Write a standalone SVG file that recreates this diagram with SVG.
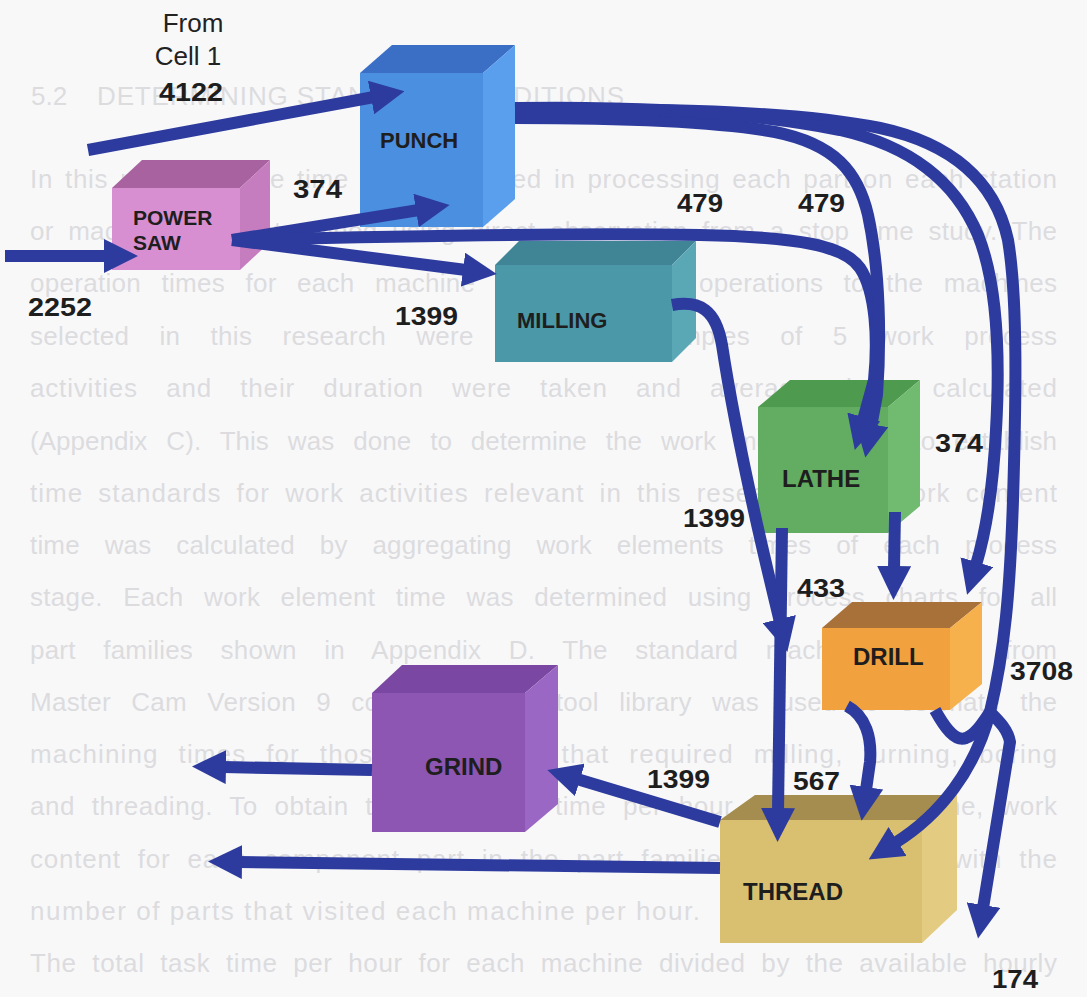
<svg xmlns="http://www.w3.org/2000/svg" width="1087" height="997" viewBox="0 0 1087 997">
  <defs>
    <style>
      .page{font-family:"Liberation Sans",Arial,sans-serif;font-size:26px;fill:#dcdcdf}
      .box-label{font-family:"Liberation Sans",Arial,sans-serif;font-weight:bold;fill:#1e1e1e}
      .qty{font-family:"Liberation Sans",Arial,sans-serif;font-weight:bold;font-size:25px;fill:#1e1e1e}
      .src{font-family:"Liberation Sans",Arial,sans-serif;font-size:26px;fill:#222}
      .flow{fill:none;stroke:#2d3b9e;stroke-width:12;stroke-linejoin:round;marker-end:url(#head)}
      .flow-plain{fill:none;stroke:#2d3b9e;stroke-width:12;stroke-linejoin:round}
    </style>
    <marker id="head" markerUnits="userSpaceOnUse" viewBox="0 0 34 34" markerWidth="34" markerHeight="34" refX="3" refY="17" orient="auto">
      <path d="M0,0 L34,17 L0,34 z" fill="#2d3b9e"/>
    </marker>
  </defs>

  <rect width="1087" height="997" fill="#f8f8f9"/>

  <!-- page text printed behind the chart (justified paragraph) -->
  <g id="page-text">
    <text class="page" x="31" y="105">5.2</text>
    <text class="page" x="97" y="105" textLength="527" lengthAdjust="spacing">DETERMINING STANDARD CONDITIONS</text>
    <text class="page" x="30" y="188" word-spacing="3.9" textLength="1027" lengthAdjust="spacing">In this research, the time that is needed in processing each part on each station</text>
    <text class="page" x="30" y="240" word-spacing="6.9" textLength="1027" lengthAdjust="spacing">or machine was determined using direct observation from a stop time study. The</text>
    <text class="page" x="30" y="292" word-spacing="12.9" textLength="1027" lengthAdjust="spacing">operation times for each machine and the other operations to the machines</text>
    <text class="page" x="30" y="345" word-spacing="22.7" textLength="1027" lengthAdjust="spacing">selected in this research were recorded. Samples of 5 work process</text>
    <text class="page" x="30" y="397" word-spacing="20.2" textLength="1027" lengthAdjust="spacing">activities and their duration were taken and average times calculated</text>
    <text class="page" x="30" y="450" word-spacing="11.7" textLength="1027" lengthAdjust="spacing">(Appendix C). This was done to determine the work measurement to establish</text>
    <text class="page" x="30" y="502" word-spacing="7" textLength="1027" lengthAdjust="spacing">time standards for work activities relevant in this research. The work content</text>
    <text class="page" x="30" y="554" word-spacing="17.5" textLength="1027" lengthAdjust="spacing">time was calculated by aggregating work elements times of each process</text>
    <text class="page" x="30" y="606" word-spacing="12.9" textLength="1027" lengthAdjust="spacing">stage. Each work element time was determined using process charts for all</text>
    <text class="page" x="30" y="659" word-spacing="20.1" textLength="1027" lengthAdjust="spacing">part families shown in Appendix D. The standard machining times from</text>
    <text class="page" x="30" y="711" word-spacing="12.9" textLength="1027" lengthAdjust="spacing">Master Cam Version 9 computer-aided tool library was used to estimate the</text>
    <text class="page" x="30" y="763" word-spacing="11.6" textLength="1027" lengthAdjust="spacing">machining times for those operations that required milling, turning, boring</text>
    <text class="page" x="30" y="815" word-spacing="8.8" textLength="1027" lengthAdjust="spacing">and threading. To obtain the total task time per hour for each machine, work</text>
    <text class="page" x="30" y="868" word-spacing="9.1" textLength="1027" lengthAdjust="spacing">content for each component part in the part families was multiplied with the</text>
    <text class="page" x="30" y="920" textLength="670" lengthAdjust="spacing">number of parts that visited each machine per hour.</text>
    <text class="page" x="30" y="972" word-spacing="7.8" textLength="1027" lengthAdjust="spacing">The total task time per hour for each machine divided by the available hourly</text>
  </g>

  <!-- machines drawn as boxes: front face, top face, right face -->
  <g id="power-saw">
    <rect x="112" y="188" width="128" height="82" fill="#d88fd2"/>
    <polygon points="112,188 142,160 270,160 240,188" fill="#a8629f"/>
    <polygon points="240,188 270,160 270,242 240,270" fill="#c67dc0"/>
    <text class="box-label" font-size="21" x="133" y="225">POWER</text>
    <text class="box-label" font-size="21" x="133" y="250">SAW</text>
  </g>

  <g id="punch">
    <rect x="360" y="73" width="123" height="154" fill="#4b8fe0"/>
    <polygon points="360,73 392,45 515,45 483,73" fill="#3b6fc6"/>
    <polygon points="483,73 515,45 515,199 483,227" fill="#5a9fee"/>
    <text class="box-label" font-size="22" x="380" y="148">PUNCH</text>
  </g>

  <g id="milling">
    <rect x="495" y="265" width="177" height="97" fill="#4a98a8"/>
    <polygon points="495,265 519,241 696,241 672,265" fill="#3f8595"/>
    <polygon points="672,265 696,241 696,338 672,362" fill="#5aa8b6"/>
    <text class="box-label" font-size="22" x="517" y="328">MILLING</text>
  </g>

  <g id="lathe">
    <rect x="758" y="407" width="130" height="126" fill="#62ad62"/>
    <polygon points="758,407 790,380 920,380 888,407" fill="#4e9a4e"/>
    <polygon points="888,407 920,380 920,506 888,533" fill="#70bb70"/>
    <text class="box-label" font-size="24" x="782" y="487">LATHE</text>
  </g>

  <g id="drill">
    <rect x="822" y="628" width="128" height="82" fill="#f1a23e"/>
    <polygon points="822,628 852,602 982,602 950,628" fill="#a8713a"/>
    <polygon points="950,628 982,602 982,684 950,710" fill="#f6b04c"/>
    <text class="box-label" font-size="24" x="853" y="665">DRILL</text>
  </g>

  <g id="grind">
    <rect x="372" y="693" width="153" height="139" fill="#8c56b2"/>
    <polygon points="372,693 402,665 558,665 525,693" fill="#7a48a2"/>
    <polygon points="525,693 558,665 558,804 525,832" fill="#9a68c4"/>
    <text class="box-label" font-size="24" x="425" y="775">GRIND</text>
  </g>

  <g id="thread">
    <rect x="720" y="820" width="202" height="123" fill="#d9c071"/>
    <polygon points="720,820 755,795 957,795 922,820" fill="#a48d4e"/>
    <polygon points="922,820 957,795 957,910 922,943" fill="#e3cb82"/>
    <text class="box-label" font-size="24" x="743" y="900">THREAD</text>
  </g>

  <!-- material flows -->
  <g id="connectors">
    <path class="flow" d="M88,150 L374,97"/>
    <path class="flow" d="M5,256 L107,256"/>
    <path class="flow" d="M232,240 L419,210"/>
    <path class="flow" d="M232,240 L466,270"/>
    <path class="flow" d="M232,240 C400,236 600,233 700,235 C800,237 845,246 860,268 C876,292 878,340 874,380 L863,420"/>
    <path class="flow" d="M515,118 C620,118 720,122 775,132 C835,144 858,172 868,215 C880,270 881,340 877,395 L871,427"/>
    <path class="flow" d="M515,108 C650,106 760,114 840,130 C910,146 955,180 978,235 C998,285 1000,360 996,430 C993,490 985,535 976,565"/>
    <path class="flow" d="M515,110 C680,108 800,112 880,128 C950,143 995,180 1008,240 C1018,300 1016,400 1013,500 C1010,590 1005,650 990,712 C975,770 940,815 895,843"/>
    <path class="flow" d="M990,712 C1000,722 1008,730 1010,742 L983,908"/>
    <path class="flow-plain" d="M935,710 C945,728 955,742 966,738 C976,734 983,722 990,712"/>
    <path class="flow" d="M672,305 C700,300 716,310 722,345 C735,430 760,540 780,622"/>
    <path class="flow" d="M782,528 L778,811"/>
    <path class="flow" d="M895,512 L894,569"/>
    <path class="flow" d="M847,706 C866,716 872,738 870,762 L866,790"/>
    <path class="flow" d="M720,822 L577,779"/>
    <path class="flow" d="M372,770 L223,767"/>
    <path class="flow" d="M720,868 L239,862"/>
  </g>

  <!-- flow quantities -->
  <g id="labels">
    <text class="src" x="193" y="32" text-anchor="middle">From</text>
    <text class="src" x="188" y="65" text-anchor="middle">Cell 1</text>
    <text class="qty" x="159" y="101" textLength="64" lengthAdjust="spacingAndGlyphs">4122</text>
    <text class="qty" x="293" y="198" textLength="49" lengthAdjust="spacingAndGlyphs">374</text>
    <text class="qty" x="28" y="316" textLength="64" lengthAdjust="spacingAndGlyphs">2252</text>
    <text class="qty" x="395" y="325" textLength="63" lengthAdjust="spacingAndGlyphs">1399</text>
    <text class="qty" x="677" y="212" textLength="46" lengthAdjust="spacingAndGlyphs">479</text>
    <text class="qty" x="798" y="212" textLength="47" lengthAdjust="spacingAndGlyphs">479</text>
    <text class="qty" x="935" y="452" textLength="48" lengthAdjust="spacingAndGlyphs">374</text>
    <text class="qty" x="683" y="527" textLength="62" lengthAdjust="spacingAndGlyphs">1399</text>
    <text class="qty" x="797" y="597" textLength="48" lengthAdjust="spacingAndGlyphs">433</text>
    <text class="qty" x="1010" y="680" textLength="63" lengthAdjust="spacingAndGlyphs">3708</text>
    <text class="qty" x="647" y="788" textLength="63" lengthAdjust="spacingAndGlyphs">1399</text>
    <text class="qty" x="793" y="790" textLength="47" lengthAdjust="spacingAndGlyphs">567</text>
    <text class="qty" x="992" y="988" textLength="46" lengthAdjust="spacingAndGlyphs">174</text>
  </g>
</svg>
